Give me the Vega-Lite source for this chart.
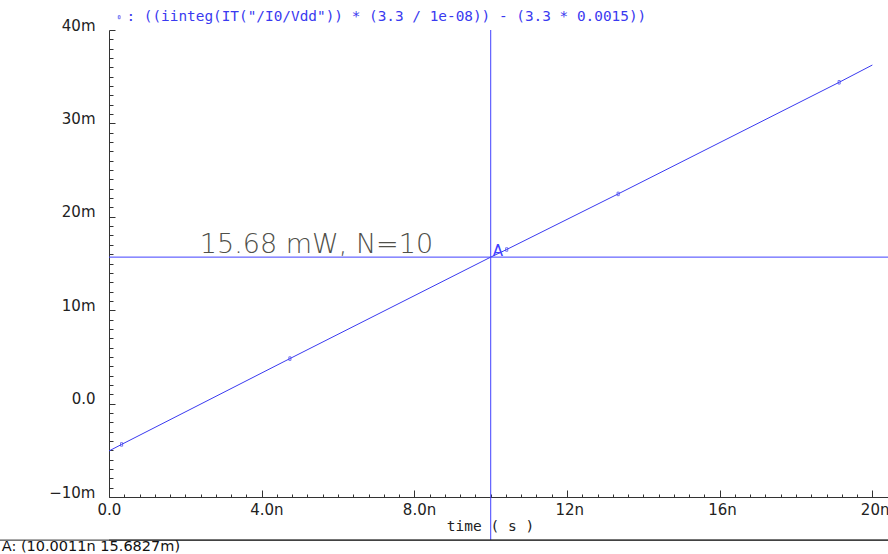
{
  "$schema": "https://vega.github.io/schema/vega-lite/v6.json",
  "width": 779,
  "height": 467,
  "autosize": {"type": "none"},
  "padding": {"left": 109, "top": 30, "right": 0, "bottom": 57},
  "background": "white",
  "config": {"view": {"stroke": null}, "font": "DejaVu Sans"},
  "datasets": {
    "trace": [
      {"series": "((iinteg(IT(\"/I0/Vdd\")) * (3.3 / 1e-08)) - (3.3 * 0.0015))", "time_ns": 0, "value_m": -5.07, "marker": false},
      {"series": "((iinteg(IT(\"/I0/Vdd\")) * (3.3 / 1e-08)) - (3.3 * 0.0015))", "time_ns": 0.33, "value_m": -4.37, "marker": true},
      {"series": "((iinteg(IT(\"/I0/Vdd\")) * (3.3 / 1e-08)) - (3.3 * 0.0015))", "time_ns": 4.74, "value_m": 4.82, "marker": true},
      {"series": "((iinteg(IT(\"/I0/Vdd\")) * (3.3 / 1e-08)) - (3.3 * 0.0015))", "time_ns": 10.0011, "value_m": 15.6827, "marker": false},
      {"series": "((iinteg(IT(\"/I0/Vdd\")) * (3.3 / 1e-08)) - (3.3 * 0.0015))", "time_ns": 10.42, "value_m": 16.5, "marker": true},
      {"series": "((iinteg(IT(\"/I0/Vdd\")) * (3.3 / 1e-08)) - (3.3 * 0.0015))", "time_ns": 13.34, "value_m": 22.45, "marker": true},
      {"series": "((iinteg(IT(\"/I0/Vdd\")) * (3.3 / 1e-08)) - (3.3 * 0.0015))", "time_ns": 19.13, "value_m": 34.4, "marker": true},
      {"series": "((iinteg(IT(\"/I0/Vdd\")) * (3.3 / 1e-08)) - (3.3 * 0.0015))", "time_ns": 20, "value_m": 36.25, "marker": false}
    ],
    "cursor": [
      {"name": "A", "time_ns": 10.0011, "value_m": 15.6827}
    ]
  },
  "layer": [
    {
      "data": {"name": "trace"},
      "mark": {"type": "line", "color": "#3a3af0", "strokeWidth": 1},
      "encoding": {
        "x": {
          "field": "time_ns", "type": "quantitative",
          "scale": {"domain": [0, 20.41], "nice": false, "zero": false},
          "axis": {
            "values": [0,0.4,0.8,1.2,1.6,2,2.4,2.8,3.2,3.6,4,4.4,4.8,5.2,5.6,6,6.4,6.8,7.2,7.6,8,8.4,8.8,9.2,9.6,10,10.4,10.8,11.2,11.6,12,12.4,12.8,13.2,13.6,14,14.4,14.8,15.2,15.6,16,16.4,16.8,17.2,17.6,18,18.4,18.8,19.2,19.6,20,20.4],
            "tickCount": 1000,
            "labelExpr": "abs(datum.value/4 - round(datum.value/4)) < 0.01 ? (datum.value == 0 ? '0.0' : (datum.value < 10 ? format(datum.value, '.1f') + 'n' : format(datum.value, '.0f') + 'n')) : ''",
            "title": "time ( s )",
            "titleFont": "DejaVu Sans Mono", "titleFontSize": 14.5, "titleFontWeight": "normal", "titleColor": "#222222",
            "titleX": 381, "titleY": 29, "titleBaseline": "middle", "titleAlign": "center",
            "labelFont": "DejaVu Sans", "labelFontSize": 15, "labelColor": "#222222",
            "labelAlign": "left", "labelOffset": -12, "labelBaseline": "middle", "labelPadding": 19,
            "labelOverlap": false, "labelBound": false, "labelFlush": false,
            "tickSize": {"condition": {"test": "abs(datum.value/4 - round(datum.value/4)) < 0.01", "value": -7}, "value": -3},
            "tickColor": "#333333", "domainColor": "#333333", "grid": false
          }
        },
        "y": {
          "field": "value_m", "type": "quantitative",
          "scale": {"domain": [-10, 40], "nice": false, "zero": false},
          "axis": {
            "values": [-10,-9,-8,-7,-6,-5,-4,-3,-2,-1,0,1,2,3,4,5,6,7,8,9,10,11,12,13,14,15,16,17,18,19,20,21,22,23,24,25,26,27,28,29,30,31,32,33,34,35,36,37,38,39,40],
            "tickCount": 1000,
            "labelExpr": "abs(datum.value/10 - round(datum.value/10)) < 0.01 ? (datum.value == 0 ? '0.0' : format(datum.value, '.0f') + 'm') : ''",
            "title": null,
            "labelFont": "DejaVu Sans", "labelFontSize": 15, "labelColor": "#222222",
            "labelAlign": "right", "labelBaseline": "alphabetic", "labelPadding": 20,
            "labelOverlap": false, "labelBound": false, "labelFlush": false,
            "tickSize": {"condition": {"test": "abs(datum.value/10 - round(datum.value/10)) < 0.01", "value": -6}, "value": -4},
            "tickColor": "#333333", "domainColor": "#333333", "grid": false
          }
        }
      }
    },
    {
      "data": {"name": "trace"},
      "transform": [{"filter": "datum.marker"}],
      "mark": {"type": "point", "shape": "M-0.3,-0.5H0.3V0.5H-0.3Z", "size": 49, "filled": false, "strokeWidth": 1},
      "encoding": {
        "x": {"field": "time_ns", "type": "quantitative"},
        "y": {"field": "value_m", "type": "quantitative"},
        "color": {
          "field": "series", "type": "nominal",
          "scale": {"range": ["#3a3af0"]},
          "legend": {
            "orient": "none", "legendX": 3, "legendY": -20, "title": null,
            "labelExpr": "': ' + datum.label",
            "labelFont": "DejaVu Sans Mono", "labelFontSize": 14.4, "labelColor": "#3a3af0", "labelLimit": 900,
            "symbolType": "M-0.3,-0.5H0.3V0.5H-0.3Z", "symbolSize": 36,
            "symbolStrokeColor": "#3a3af0", "symbolFillColor": "white", "symbolStrokeWidth": 1,
            "labelOffset": 0, "padding": 0
          }
        }
      }
    },
    {
      "data": {"name": "cursor"},
      "mark": {"type": "rule", "color": "#4040ff", "strokeWidth": 1},
      "encoding": {
        "y": {"field": "value_m", "type": "quantitative"}
      }
    },
    {
      "data": {"name": "cursor"},
      "mark": {"type": "rule", "color": "#4040ff", "strokeWidth": 1, "clip": false},
      "encoding": {
        "x": {"field": "time_ns", "type": "quantitative"},
        "y": {"datum": 40, "type": "quantitative"},
        "y2": {"datum": -14.6}
      }
    },
    {
      "data": {"name": "cursor"},
      "mark": {"type": "text", "color": "#4040ff", "fontSize": 15, "font": "DejaVu Sans", "align": "left", "baseline": "alphabetic", "dx": 2, "dy": -1},
      "encoding": {
        "x": {"field": "time_ns", "type": "quantitative"},
        "y": {"field": "value_m", "type": "quantitative"},
        "text": {"field": "name"}
      }
    },
    {
      "data": {"values": [{}]},
      "mark": {"type": "text", "text": "15.68 mW, N=10", "color": "#50504a", "fontSize": 27, "font": "DejaVu Sans", "fontWeight": 200, "align": "left", "baseline": "alphabetic"},
      "encoding": {
        "x": {"datum": 2.38, "type": "quantitative"},
        "y": {"datum": 16.1, "type": "quantitative"}
      }
    },
    {
      "data": {"name": "cursor"},
      "mark": {"type": "rule", "color": "#222222", "strokeWidth": 1, "clip": false, "yOffset": 283},
      "encoding": {
        "y": {"field": "value_m", "type": "quantitative"}
      }
    },
    {
      "data": {"name": "cursor"},
      "mark": {"type": "rule", "color": "#222222", "strokeWidth": 1, "clip": false, "yOffset": 283, "y2Offset": 283},
      "encoding": {
        "x": {"datum": -2.87, "type": "quantitative"},
        "x2": {"datum": 20.41},
        "y": {"field": "value_m", "type": "quantitative"},
        "y2": {"field": "value_m"}
      }
    },
    {
      "data": {"values": [{}]},
      "mark": {"type": "text", "text": "A: (10.0011n 15.6827m)", "color": "#111111", "fontSize": 14.5, "font": "DejaVu Sans", "align": "left", "baseline": "middle", "clip": false},
      "encoding": {
        "x": {"datum": -2.81, "type": "quantitative"},
        "y": {"datum": -15.35, "type": "quantitative"}
      }
    }
  ]
}
